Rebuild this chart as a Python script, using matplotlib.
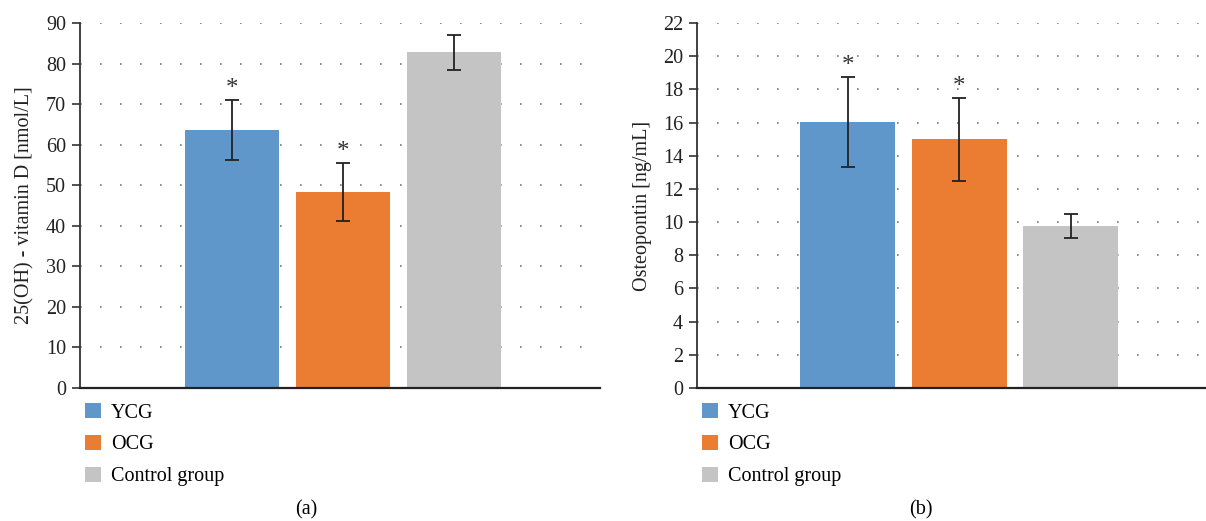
import numpy as np
import matplotlib.pyplot as plt

groups = ["YCG", "OCG", "Control group"]
colors = ["#6097CB", "#EB7D33", "#C3C4C3"]

vitd = [63.5, 48.3, 82.8]
vitd_err = [7.4, 7.1, 4.3]
opn = [16.05, 15.0, 9.75]
opn_err = [2.7, 2.5, 0.72]
stars = ["*", "*", ""]

plt.rcParams['font.family'] = ['Liberation Serif', 'DejaVu Serif']
plt.rcParams['font.size'] = 13

fig = plt.figure(figsize=(12.06, 5.21), dpi=100)
ax1 = fig.add_axes([80/1206, 1-388/521, 520/1206, 365/521])
ax2 = fig.add_axes([697/1206, 1-388/521, 509/1206, 365/521])

x = np.arange(len(groups)) - 1


def panel(ax, vals, errs, ymax, step, xlim, ylabel, tag, tagx):
    for i in range(len(groups)):
        ax.bar(x[i], vals[i], width=0.85, color=colors[i], zorder=2, label=groups[i])
        ax.errorbar(x[i], vals[i], yerr=errs[i], color='#222222', capsize=5,
                    elinewidth=1.3, capthick=1.3, zorder=3)
        if stars[i]:
            ax.annotate(stars[i], (x[i], vals[i] + errs[i]), xytext=(0, 0),
                        textcoords='offset points', ha='center', va='bottom',
                        fontsize=18, color='#333333')
    ax.set_xlim(*xlim)
    ax.set_ylim(0, ymax)
    ax.set_yticks(np.arange(0, ymax + step/2, step))
    ax.set_xticks([])
    ax.yaxis.grid(True, linestyle=(0, (1, 11)), color='#777777', linewidth=1.2, zorder=0)
    for s in ['top', 'right']:
        ax.spines[s].set_visible(False)
    ax.spines['left'].set_color('#333333')
    ax.spines['bottom'].set_color('#222222')
    ax.spines['left'].set_linewidth(1.3)
    ax.spines['bottom'].set_linewidth(1.6)
    ax.tick_params(axis='y', length=6, width=1.2, color='#333333', pad=4,
                   labelsize=14.5, labelcolor='#222222')
    ax.set_ylabel(ylabel, fontsize=14.5, color='#222222', labelpad=8)
    w = ax.get_position().width * 1206
    ax.legend(loc='upper left', bbox_to_anchor=(5/w, -0.041), frameon=False,
              handlelength=0.8, handleheight=0.8, handletextpad=0.5,
              labelspacing=0.6, fontsize=14.5, borderaxespad=0, borderpad=0)
    fig.text(tagx/1206, 1-510/521, tag, ha='center', va='center', fontsize=14.5)


panel(ax1, vitd, vitd_err, 90, 10, (-2.37, 2.32),
      "25(OH) - vitamin D [nmol/L]", "(a)", 306)
panel(ax2, opn, opn_err, 22, 2, (-2.35, 2.21),
      "Osteopontin [ng/mL]", "(b)", 921)

fig.savefig("out.png", dpi=100)
